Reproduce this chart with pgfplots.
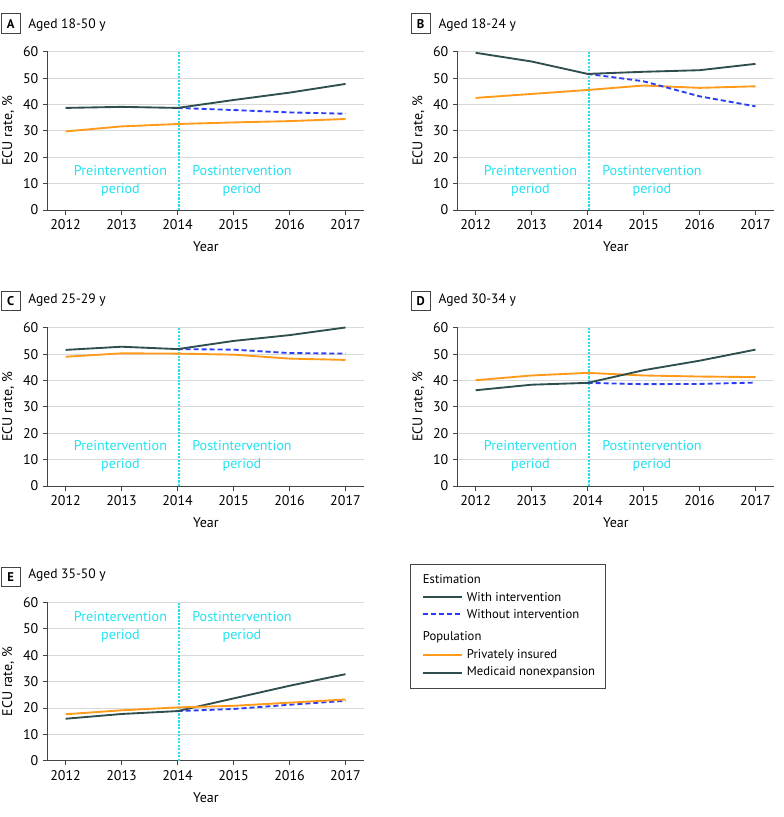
\documentclass[border=0pt]{standalone}
\usepackage{fontspec}
\setmainfont{PT Sans}
\usepackage{pgfplots}
\pgfplotsset{compat=1.18}
\definecolor{mteal}{HTML}{2F4F4F}
\definecolor{morange}{HTML}{FF9A1A}
\definecolor{mblue}{HTML}{2B3DF2}
\definecolor{mcyan}{HTML}{22E2F0}
\definecolor{mgrid}{HTML}{D9D9D9}
\definecolor{maxis}{HTML}{444444}
\tikzset{
  period/.style={text=mcyan, align=center, font=\fontsize{10.6}{13.5}\selectfont},
  med/.style={mteal, line width=1.4pt},
  cf/.style={mblue, line width=1.4pt, dash pattern=on 3.75pt off 2.25pt},
  priv/.style={morange, line width=1.4pt},
  divl/.style={draw=mcyan, line width=1.2pt, dash pattern=on 1.6pt off 1.0pt},
}
\pgfplotsset{
  panel/.style={
    scale only axis, width=237.2pt, height=118.7pt,
    xmin=2011.68, xmax=2017.33, ymin=0, ymax=60,
    xtick={2012,2013,2014,2015,2016,2017}, ytick={0,10,20,30,40,50,60},
    axis lines*=left, xtick pos=left, ytick pos=left,
    axis line style={maxis, line width=0.6pt},
    tick style={maxis, line width=0.6pt},
    tick align=outside, major tick length=3.5pt,
    ymajorgrids, grid style={mgrid, line width=0.6pt},
    tick label style={font=\fontsize{10.5}{12}\selectfont},
    /pgf/number format/assume math mode=true,
    /pgf/number format/1000 sep={},
    xlabel={Year}, ylabel={ECU rate, \%},
    label style={font=\fontsize{10.5}{12}\selectfont},
    xlabel style={at={(axis description cs:0.5,-0.2336)}, anchor=center},
    ylabel style={at={(axis description cs:-0.1246,0.5)}, anchor=center},
    clip=false,
  },
}
\newcommand\divline{\addplot[divl, forget plot] coordinates {(2014.03,0) (2014.03,60)};}
\newcommand\panellabel[4]{%
  \node[draw=maxis, line width=0.6pt, minimum width=14.5pt, minimum height=14.6pt, anchor=north west, inner sep=0pt, font=\bfseries\fontsize{9.5}{10}\selectfont] at (#1,#2) {#3};
}
\begin{document}
\begin{tikzpicture}
\path[use as bounding box] (0,0) rectangle (587.25pt,-612.75pt);
% panel labels and titles
\panellabel{0.5pt}{-10.1pt}{A}{}
\node[anchor=base west, inner sep=0pt, font=\fontsize{10.2}{12}\selectfont] at (21pt,-21.2pt) {Aged 18-50 y};
\panellabel{308pt}{-10.1pt}{B}{}
\node[anchor=base west, inner sep=0pt, font=\fontsize{10.2}{12}\selectfont] at (328.7pt,-21.2pt) {Aged 18-24 y};
\panellabel{0.5pt}{-217.9pt}{C}{}
\node[anchor=base west, inner sep=0pt, font=\fontsize{10.2}{12}\selectfont] at (21pt,-227.6pt) {Aged 25-29 y};
\panellabel{308pt}{-217.9pt}{D}{}
\node[anchor=base west, inner sep=0pt, font=\fontsize{10.2}{12}\selectfont] at (328.7pt,-227.6pt) {Aged 30-34 y};
\panellabel{0.5pt}{-425pt}{E}{}
\node[anchor=base west, inner sep=0pt, font=\fontsize{10.2}{12}\selectfont] at (21pt,-433.7pt) {Aged 35-50 y};

% Panel A
\begin{axis}[panel, at={(35.78pt,-157.5pt)}, anchor=south west]
\divline
\addplot[priv] coordinates {(2012,29.8) (2013,31.7) (2014,32.6) (2015,33.2) (2016,33.7) (2017,34.5)};
\addplot[cf] coordinates {(2014,38.7) (2015,37.9) (2016,37.0) (2017,36.5)};
\addplot[med] coordinates {(2012,38.7) (2013,39.1) (2014,38.7) (2015,41.7) (2016,44.5) (2017,47.8)};
\node[period] at (axis cs:2012.98,11) {Preintervention\\period};
\node[period] at (axis cs:2015.15,11) {Postintervention\\period};
\end{axis}

% Panel B
\begin{axis}[panel, at={(343.28pt,-157.5pt)}, anchor=south west]
\divline
\addplot[priv] coordinates {(2012,42.5) (2013,44.0) (2014,45.5) (2015,47.2) (2016,46.3) (2017,46.9)};
\addplot[cf] coordinates {(2014,51.6) (2015,48.8) (2016,43.1) (2017,39.3)};
\addplot[med] coordinates {(2012,59.6) (2013,56.3) (2014,51.6) (2015,52.4) (2016,53.0) (2017,55.4)};
\node[period] at (axis cs:2012.98,11) {Preintervention\\period};
\node[period] at (axis cs:2015.15,11) {Postintervention\\period};
\end{axis}

% Panel C
\begin{axis}[panel, at={(35.78pt,-364.5pt)}, anchor=south west]
\divline
\addplot[priv] coordinates {(2012,49.0) (2013,50.3) (2014,50.2) (2015,49.8) (2016,48.3) (2017,47.8)};
\addplot[cf] coordinates {(2014,51.9) (2015,51.7) (2016,50.4) (2017,50.2)};
\addplot[med] coordinates {(2012,51.6) (2013,52.8) (2014,51.9) (2015,55.0) (2016,57.2) (2017,60.1)};
\node[period] at (axis cs:2012.98,11.3) {Preintervention\\period};
\node[period] at (axis cs:2015.15,11.3) {Postintervention\\period};
\end{axis}

% Panel D
\begin{axis}[panel, at={(343.28pt,-364.5pt)}, anchor=south west]
\divline
\addplot[priv] coordinates {(2012,40.1) (2013,41.9) (2014,42.9) (2015,41.9) (2016,41.5) (2017,41.3)};
\addplot[cf] coordinates {(2014,39.1) (2015,38.6) (2016,38.7) (2017,39.2)};
\addplot[med] coordinates {(2012,36.3) (2013,38.4) (2014,39.1) (2015,43.9) (2016,47.5) (2017,51.7)};
\node[period] at (axis cs:2012.98,11.3) {Preintervention\\period};
\node[period] at (axis cs:2015.15,11.3) {Postintervention\\period};
\end{axis}

% Panel E
\begin{axis}[panel, at={(35.78pt,-570.5pt)}, anchor=south west]
\divline
\addplot[cf] coordinates {(2014,18.8) (2015,19.6) (2016,21.2) (2017,22.7)};
\addplot[med] coordinates {(2012,15.9) (2013,17.7) (2014,18.8) (2015,23.6) (2016,28.4) (2017,32.8)};
\addplot[priv] coordinates {(2012,17.6) (2013,19.1) (2014,20.2) (2015,20.8) (2016,22.0) (2017,23.2)};
\node[period] at (axis cs:2012.98,50.6) {Preintervention\\period};
\node[period] at (axis cs:2015.15,50.6) {Postintervention\\period};
\end{axis}

% Legend
\draw[maxis, line width=0.6pt] (307.5pt,-423pt) rectangle (453.75pt,-516pt);
\begin{scope}[every node/.style={anchor=west, inner sep=0pt, font=\fontsize{9.5}{11}\selectfont}]
\node at (317pt,-434.25pt) {Estimation};
\draw[mteal, line width=1.4pt] (317pt,-447.5pt) -- (346.3pt,-447.5pt);
\node at (350pt,-447.5pt) {With intervention};
\draw[mblue, line width=1.4pt, dash pattern=on 3.75pt off 2.25pt] (317pt,-460.5pt) -- (346.3pt,-460.5pt);
\node at (350pt,-460.5pt) {Without intervention};
\node at (317pt,-478.3pt) {Population};
\draw[morange, line width=1.4pt] (317pt,-491.25pt) -- (346.3pt,-491.25pt);
\node at (350pt,-491.25pt) {Privately insured};
\draw[mteal, line width=1.4pt] (317pt,-504.5pt) -- (346.3pt,-504.5pt);
\node at (350pt,-504.5pt) {Medicaid nonexpansion};
\end{scope}
\end{tikzpicture}
\end{document}
